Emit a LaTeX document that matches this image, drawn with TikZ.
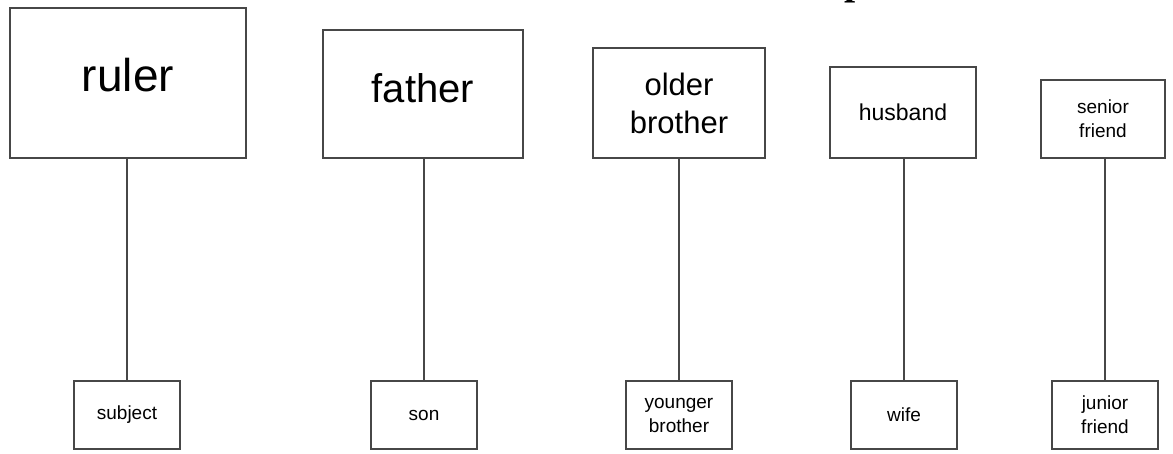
\documentclass[tikz,border=0pt]{standalone}
\usepackage{fontspec}
\setmainfont{Liberation Sans}
\newfontfamily\titleserif{Liberation Serif}
\usetikzlibrary{positioning}

\tikzset{
    rank box/.style={draw=black!72, line width=2.6pt, fill=white,
        inner sep=0pt, align=center, anchor=center},
    tie/.style={draw=black!72, line width=2.2pt}
}

\begin{document}
\begin{tikzpicture}[x=1pt, y=-1pt]
    \useasboundingbox (0,0) rectangle (1173,453);

    % cut-off title letter at the top edge
    \begin{scope}
        \clip (0,0) rectangle (1173,453);
        \node[inner sep=0pt, anchor=base west,
            font=\titleserif\bfseries\fontsize{40pt}{40pt}\selectfont] (title tail) at (844,-6) {p};
    \end{scope}

    % superior side
    \node[rank box, minimum width=236pt, minimum height=150pt, text depth=16pt,
        font=\fontsize{46pt}{50pt}\selectfont] (ruler) at (128,83) {ruler};
    \node[rank box, minimum width=200pt, minimum height=128pt, text depth=12pt,
        font=\fontsize{40pt}{44pt}\selectfont] (father) at (423,94) {father};
    \node[rank box, minimum width=172pt, minimum height=110pt,
        font=\fontsize{31pt}{38pt}\selectfont] (older) at (679,103) {older\\brother};
    \node[rank box, minimum width=146pt, minimum height=91pt,
        font=\fontsize{23pt}{26pt}\selectfont] (husband) at (903,112.5) {husband};
    \node[rank box, minimum width=124pt, minimum height=78pt,
        font=\fontsize{19pt}{24pt}\selectfont] (senior) at (1103,119) {senior\\friend};

    % inferior side
    \node[rank box, minimum width=106pt, minimum height=68pt,
        font=\fontsize{19pt}{24pt}\selectfont] (subject) at (127,415) {subject};
    \node[rank box, minimum width=106pt, minimum height=68pt,
        font=\fontsize{19pt}{24pt}\selectfont] (son) at (424,415) {son};
    \node[rank box, minimum width=106pt, minimum height=68pt,
        font=\fontsize{19pt}{24pt}\selectfont] (younger) at (679,415) {younger\\brother};
    \node[rank box, minimum width=106pt, minimum height=68pt,
        font=\fontsize{19pt}{24pt}\selectfont] (wife) at (904,415) {wife};
    \node[rank box, minimum width=106pt, minimum height=68pt,
        font=\fontsize{19pt}{24pt}\selectfont] (junior) at (1105,415) {junior\\friend};

    \foreach \upper/\lower in {ruler/subject, father/son, older/younger,
        husband/wife, senior/junior}
        \draw[tie] (\lower.north |- \upper.south) -- (\lower.north);
\end{tikzpicture}
\end{document}
